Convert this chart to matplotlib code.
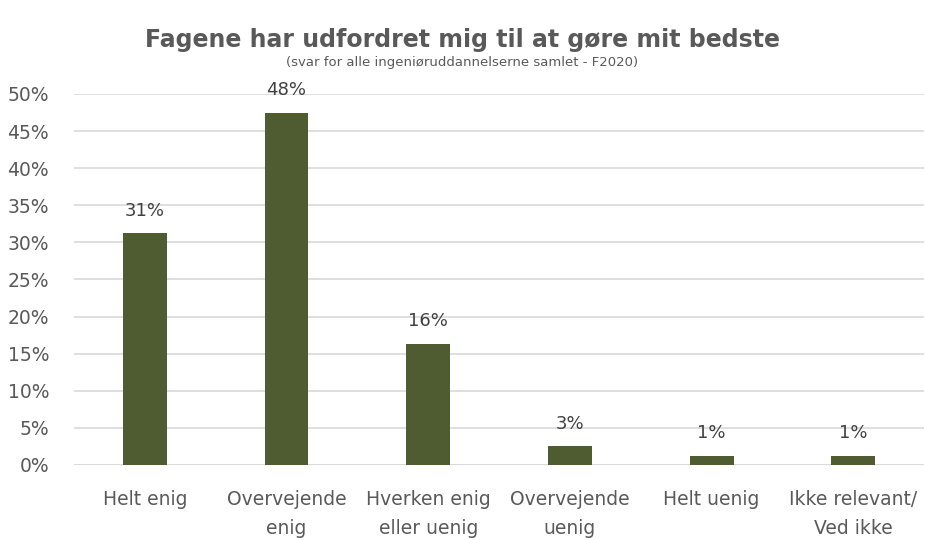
import numpy as np
import matplotlib
matplotlib.use("Agg")
from matplotlib import pyplot as plt
from matplotlib.ticker import PercentFormatter

categories = ["Helt enig", "Overvejende\nenig", "Hverken enig\neller uenig",
              "Overvejende\nuenig", "Helt uenig", "Ikke relevant/\nVed ikke"]
values = [31.2, 47.5, 16.3, 2.5, 1.2, 1.2]
value_labels = ["31%", "48%", "16%", "3%", "1%", "1%"]
yticks = [0, 5, 10, 15, 20, 25, 30, 35, 40, 45, 50]

plt.rcParams['font.family'] = ['DejaVu Sans']
grey = '#595959'

fig = plt.figure(figsize=(9.25, 5.4), dpi=100)
ax = fig.add_axes([0.08, 0.139, 0.919, 0.687])

x = np.arange(len(categories))
ax.bar(x, values, width=0.31, color='#4F5B30', zorder=3)

for xi, v, lab in zip(x, values, value_labels):
    ax.annotate(lab, (xi, v), xytext=(0, 10), textcoords='offset points',
                ha='center', va='bottom', fontsize=13, color='#404040')

ax.set_xlim(-0.5, len(categories) - 0.5)
ax.set_ylim(0, 50)
ax.set_yticks(yticks)
ax.yaxis.set_major_formatter(PercentFormatter(decimals=0))
ax.set_xticks(x)
ax.set_xticklabels(categories, fontsize=13.5, color=grey, linespacing=1.7)
ax.tick_params(axis='y', labelsize=13.5, labelcolor=grey, length=0, pad=18)
ax.tick_params(axis='x', length=0, pad=18)
ax.grid(axis='y', color='#d9d9d9', linewidth=1.2, zorder=0)
for s in ax.spines.values():
    s.set_visible(False)
ax.axhline(0, color='#d9d9d9', linewidth=1.2, zorder=1)

fig.text(0.5, 0.925, "Fagene har udfordret mig til at gøre mit bedste",
         ha='center', va='center', fontsize=17, fontweight='bold', color=grey)
fig.text(0.5, 0.885, "(svar for alle ingeniøruddannelserne samlet - F2020)",
         ha='center', va='center', fontsize=9.5, color=grey)

fig.savefig("out.png", dpi=100)
